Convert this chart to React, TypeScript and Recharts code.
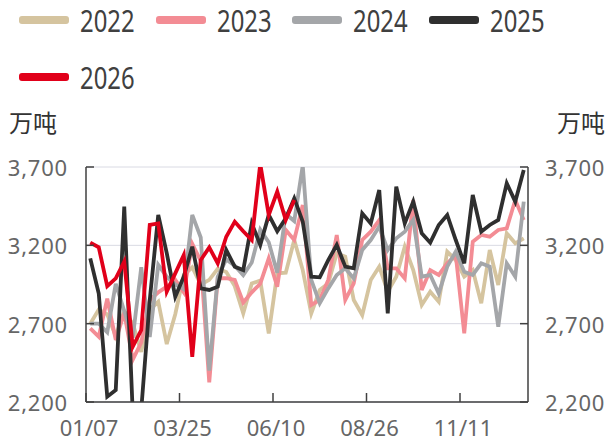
import React from 'react';
import { LineChart, Line, XAxis, YAxis, CartesianGrid } from 'recharts';

// week index of each x label (band boundaries)
const weekTicks = [0, 11, 22, 33, 44];
const weekLabels = ['01/07', '03/25', '06/10', '08/26', '11/11'];
const yTicks = [2200, 2700, 3200, 3700];

const years = ['2022', '2023', '2024', '2025', '2026'];
const colors = ['#d5c49f', '#f38c94', '#a4a6a9', '#2f2f2f', '#e1001a'];

const s2022 = [
  2700, 2790, 2760, 2620, 2780, 2700, 2520, 2790, 2840, 2570, 2760, 3010, 3060,
  2950, 2980, 3050, 3030, 2940, 2766, 2957, 2975, 2638, 3021, 3025, 3234, 3042,
  2766, 2915, 2957, 3149, 3128, 2851, 2755, 2979, 3064, 2904, 3000, 3191, 3042,
  2819, 2904, 2840, 3160, 3106, 3000, 3042, 2830, 3170, 2947, 3277, 3213, 3245,
];
const s2023 = [
  2670, 2617, 2860, 2596, 2770, 2470, 2580, 2850, 2900, 2936, 2980, 2900, 3210,
  3100, 2325, 2990, 2990, 2980, 2835, 2900, 2955, 3117, 2936, 3298, 3234, 3457,
  2819, 2851, 2979, 3266, 2851, 2957, 3234, 3287, 3360, 3053, 3053, 2989, 3489,
  2915, 3042, 3011, 3085, 3138, 2638, 3223, 3266, 3255, 3298, 3308, 3489, 3362,
];
const s2024 = [
  2700, 2700, 2645, 2955, 2780, 2610, 3060, 2615, 3075, 3000, 2950, 2920, 3394,
  3250, 2400, 3000, 3110, 3070, 3010, 3090, 3300, 3220, 3025, 3400, 3355, 3710,
  2979, 2830, 2925, 3011, 3053, 2989, 3170, 3234, 3320, 3170, 3245, 3287, 3362,
  3000, 3011, 2893, 3064, 3160, 3032, 3011, 3085, 3064, 2681, 3085, 3000, 3479,
];
const s2025 = [
  3117, 2893, 2234, 2276, 3447, 2130, 2150, 2850, 3394, 3150, 2872, 3000, 3191,
  2925, 2915, 2936, 3170, 3064, 3042, 3340, 3202, 3394, 3290, 3372, 3500, 3351,
  3000, 2996, 3106, 3202, 3064, 3053, 3404, 3340, 3553, 2766, 3574, 3340, 3479,
  3277, 3217, 3330, 3394, 3234, 3085, 3521, 3287, 3330, 3362, 3596, 3479, 3681,
];
const s2026 = [
  3217, 3187, 2940, 2989, 3096, 2553, 2659, 3330, 3340, 2904, 3021, 3138, 2489,
  3106, 3187, 3085, 3255, 3351, 3290, 3234, 3720, 3394, 3543, 3362, 3490,
];

const series = [s2022, s2023, s2024, s2025, s2026];

// each week sits in the middle of its band
const data = s2022.map((_, i) => {
  const row: Record<string, number | null> = { week: i + 0.5 };
  years.forEach((yr, k) => {
    row[yr] = series[k][i] ?? null;
  });
  return row;
});

const AXIS = '#404040';
const TICK_TEXT = '#666666';
const FONT = '"Noto Sans", "Noto Sans CJK SC", sans-serif';

const fmt = (v: number) => v.toLocaleString('en-US');

function BottomTick({ x, y, payload }: any) {
  const idx = weekTicks.indexOf(payload.value);
  return (
    <g>
      <line x1={x} x2={x} y1={y - 25} y2={y - 34} stroke={AXIS} strokeWidth={1.5} />
      <text
        x={x + 3}
        y={y}
        textAnchor="middle"
        dominantBaseline="central"
        fill={TICK_TEXT}
        fontSize={22}
        fontFamily={FONT}
      >
        {weekLabels[idx]}
      </text>
    </g>
  );
}

function LeftTick({ x, y, payload }: any) {
  return (
    <g>
      <line x1={x + 18} x2={x + 26} y1={y} y2={y} stroke={AXIS} strokeWidth={1.5} />
      <text
        x={x}
        y={y}
        textAnchor="end"
        dominantBaseline="central"
        fill={TICK_TEXT}
        fontSize={22}
        letterSpacing={0.8}
        fontFamily={FONT}
      >
        {fmt(payload.value)}
      </text>
    </g>
  );
}

function RightTick({ x, y, payload }: any) {
  return (
    <g>
      <line x1={x - 17} x2={x - 25} y1={y} y2={y} stroke={AXIS} strokeWidth={1.5} />
      <text
        x={x}
        y={y}
        textAnchor="start"
        dominantBaseline="central"
        fill={TICK_TEXT}
        fontSize={22}
        letterSpacing={0.8}
        fontFamily={FONT}
      >
        {fmt(payload.value)}
      </text>
    </g>
  );
}

function LegendBlock() {
  return (
    <>
      {years.map((yr, i) => {
        const left = 19 + (i % 4) * 136.6;
        const cy = 20 + Math.floor(i / 4) * 57;
        return (
          <div key={yr}>
            <div
              style={{
                position: 'absolute',
                left,
                top: cy - 4,
                width: 50,
                height: 8,
                borderRadius: 3,
                background: colors[i],
              }}
            />
            <div
              style={{
                position: 'absolute',
                left: left + 61,
                top: cy - 22,
                height: 44,
                lineHeight: '44px',
                fontSize: 31,
                fontFamily: FONT,
                color: AXIS,
                transform: 'scaleX(0.77)',
                transformOrigin: 'left center',
                whiteSpace: 'nowrap',
              }}
            >
              {yr}
            </div>
          </div>
        );
      })}
    </>
  );
}

const unitStyle: React.CSSProperties = {
  position: 'absolute',
  top: 106,
  fontSize: 24,
  lineHeight: '32px',
  fontFamily: '"Noto Sans CJK SC", sans-serif',
  color: '#333333',
};

export default function App() {
  return (
    <div style={{ position: 'absolute', left: 0, top: 0, width: 609, height: 444, background: '#fff' }}>
      <LegendBlock />
      <div style={{ ...unitStyle, left: 9 }}>万吨</div>
      <div style={{ ...unitStyle, left: 557 }}>万吨</div>
      <div style={{ position: 'absolute', left: 0, top: 0 }}>
        <LineChart width={609} height={444} data={data} margin={{ top: 167, right: 0, bottom: 0, left: 0 }}>
          <CartesianGrid vertical={false} stroke="#d9dae3" strokeWidth={1} />
          <XAxis
            type="number"
            dataKey="week"
            domain={[0, 52]}
            ticks={weekTicks}
            height={42}
            tickSize={0}
            tickMargin={25}
            tickLine={false}
            axisLine={{ stroke: AXIS, strokeWidth: 1.5 }}
            tick={(p: any) => <BottomTick {...p} />}
            interval={0}
          />
          <YAxis
            domain={[2200, 3700]}
            ticks={yTicks}
            width={86}
            allowDataOverflow
            tickSize={0}
            tickMargin={18}
            tickLine={false}
            axisLine={{ stroke: AXIS, strokeWidth: 1.5 }}
            tick={(p: any) => <LeftTick {...p} />}
            interval={0}
          />
          <YAxis
            yAxisId="right"
            orientation="right"
            domain={[2200, 3700]}
            ticks={yTicks}
            width={81}
            allowDataOverflow
            tickSize={0}
            tickMargin={17}
            tickLine={false}
            axisLine={{ stroke: AXIS, strokeWidth: 1.5 }}
            tick={(p: any) => <RightTick {...p} />}
            interval={0}
          />
          {years.map((yr, i) => (
            <Line
              key={yr}
              type="linear"
              dataKey={yr}
              stroke={colors[i]}
              strokeWidth={3.8}
              dot={false}
              activeDot={false}
              isAnimationActive={false}
            />
          ))}
        </LineChart>
      </div>
    </div>
  );
}
